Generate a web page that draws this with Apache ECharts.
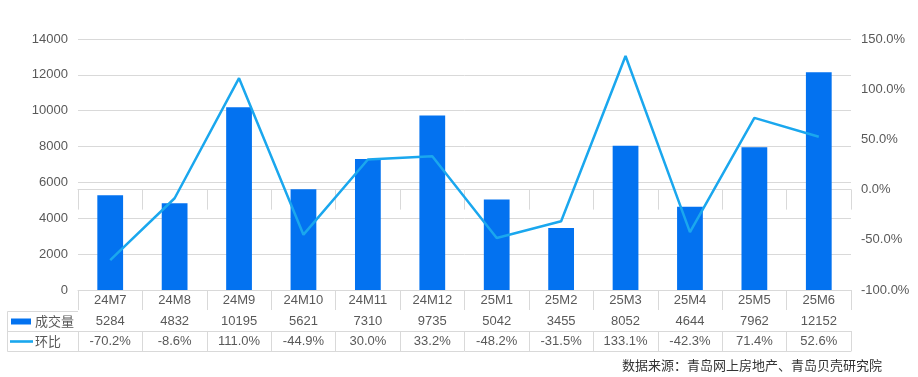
<!DOCTYPE html>
<html>
<head>
<meta charset="utf-8">
<script src="https://cdn.jsdelivr.net/npm/echarts@6/dist/echarts.min.js"></script>
<style>
html,body{margin:0;padding:0;background:#fff;}
#c{width:918px;height:377px;}
</style>
</head>
<body>
<div id="c"></div>
<script>
const categories = ['24M7','24M8','24M9','24M10','24M11','24M12','25M1','25M2','25M3','25M4','25M5','25M6'];
const volume = [5284,4832,10195,5621,7310,9735,5042,3455,8052,4644,7962,12152];
const momPct = [-70.2,-8.6,111.0,-44.9,30.0,33.2,-48.2,-31.5,133.1,-42.3,71.4,52.6];
const seriesNames = ['成交量','环比'];
const sourceText = '数据来源：青岛网上房地产、青岛贝壳研究院';

const FONT = '"Liberation Sans", Arial, sans-serif';
const CJK = '"Noto Sans CJK SC", "Liberation Sans", sans-serif';
const GRID_C = '#d9d9d9';
const TXT_C = '#595959';
const BAR_C = '#0372f0';
const LINE_C = '#1aa7ee';

const chart = echarts.init(document.getElementById('c'));

function tableAxis(offset, labelFn, showLabel) {
  return {
    type: 'category',
    data: categories,
    position: 'bottom',
    gridIndex: 0,
    offset: offset,
    boundaryGap: true,
    axisLine: {show: true, lineStyle: {color: GRID_C, width: 1}},
    axisTick: {show: showLabel, length: 20, lineStyle: {color: GRID_C, width: 1}, interval: 0},
    axisLabel: {
      show: showLabel, interval: 0, margin: 4, color: TXT_C, fontSize: 13, fontFamily: FONT,
      formatter: labelFn
    },
    splitLine: {show: false}
  };
}

const option = {
  animation: false,
  backgroundColor: '#fff',
  grid: {left: 78, right: 67, top: 39, bottom: 87, containLabel: false},
  xAxis: [
    tableAxis(0, (v) => v, true),
    tableAxis(21, (v, i) => String(volume[i]), true),
    tableAxis(41, (v, i) => momPct[i].toFixed(1) + '%', true),
    tableAxis(61, () => '', false)
  ],
  yAxis: [
    {
      type: 'value', min: 0, max: 14000, interval: 2000,
      axisLine: {show: false}, axisTick: {show: false},
      axisLabel: {color: TXT_C, fontSize: 13, fontFamily: FONT, margin: 10, formatter: (v) => String(v)},
      splitLine: {show: true, lineStyle: {color: GRID_C, width: 1}}
    },
    {
      type: 'value', min: -100, max: 150, interval: 50, position: 'right',
      axisLine: {show: false}, axisTick: {show: false},
      axisLabel: {color: TXT_C, fontSize: 13, fontFamily: FONT, margin: 10,
        formatter: (v) => v.toFixed(1) + '%'},
      splitLine: {show: false}
    }
  ],
  legend: [
    {
      data: [{name: seriesNames[0], icon: 'rect'}],
      left: 11, top: 315, padding: 0, itemWidth: 20, itemHeight: 6, itemGap: 5,
      textStyle: {color: TXT_C, fontSize: 13, fontFamily: CJK, padding: [0,0,0,-1]},
      selectedMode: false
    },
    {
      data: [{name: seriesNames[1], icon: 'path://M0,0h22v2.5h-22z'}],
      left: 10, top: 335, padding: 0, itemWidth: 23, itemHeight: 3, itemGap: 5,
      textStyle: {color: TXT_C, fontSize: 13, fontFamily: CJK, padding: [0,0,0,-3]},
      selectedMode: false
    }
  ],
  title: {
    text: sourceText, right: 36, top: 359, padding: 0,
    textStyle: {color: '#333', fontSize: 13, fontWeight: 'normal', fontFamily: CJK}
  },
  graphic: [
    {type: 'line', shape: {x1: 7.5, y1: 311.5, x2: 78, y2: 311.5}, style: {stroke: GRID_C, lineWidth: 1}, silent: true},
    {type: 'line', shape: {x1: 7.5, y1: 331.5, x2: 78, y2: 331.5}, style: {stroke: GRID_C, lineWidth: 1}, silent: true},
    {type: 'line', shape: {x1: 7.5, y1: 351.5, x2: 78, y2: 351.5}, style: {stroke: GRID_C, lineWidth: 1}, silent: true},
    {type: 'line', shape: {x1: 7.5, y1: 311.5, x2: 7.5, y2: 351.5}, style: {stroke: GRID_C, lineWidth: 1}, silent: true}
  ],
  series: [
    {
      name: seriesNames[0], type: 'bar', data: volume, xAxisIndex: 0, yAxisIndex: 0,
      barWidth: '40%', itemStyle: {color: BAR_C}
    },
    {
      name: seriesNames[1], type: 'line', data: momPct, xAxisIndex: 0, yAxisIndex: 1,
      symbol: 'none', lineStyle: {color: LINE_C, width: 2.5}, itemStyle: {color: LINE_C}
    }
  ]
};
chart.setOption(option);
</script>
</body>
</html>
